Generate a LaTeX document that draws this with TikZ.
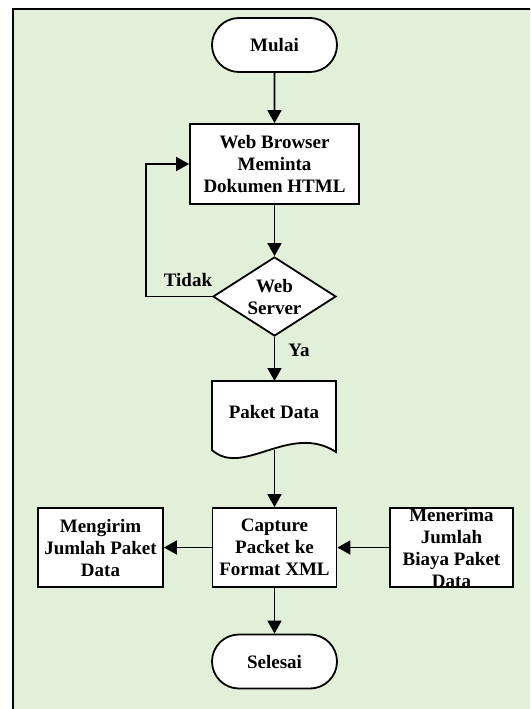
\documentclass[tikz,border=0pt]{standalone}
\usepackage{fontspec}
\setmainfont{Liberation Serif}
\usetikzlibrary{arrows.meta,shapes.geometric,shapes.misc}
\definecolor{bgreen}{HTML}{E2F0D9}
\begin{document}
\begin{tikzpicture}[x=1pt,y=-1pt,
 txt/.style={font=\fontsize{19}{22}\selectfont\bfseries, align=center, inner sep=0pt},
 base/.style={txt, draw=black, line width=1.8pt, fill=white},
 procbox/.style={base, rectangle, minimum width=#1, minimum height=79pt},
 term/.style={base, rounded rectangle, minimum width=125pt, minimum height=54pt},
 dec/.style={base, diamond, minimum width=123pt, minimum height=79pt},
 arr/.style={-{Triangle[width=14pt,length=13pt]}, line width=1.8pt}]
\useasboundingbox (0,0) rectangle (530,709);
\clip (0,0) rectangle (530,709);
\draw[line width=1.8pt, fill=bgreen] (13,9) rectangle (560,740);

\node[term] (mulai) at (274.5,45) {Mulai};
\node[procbox=169pt, minimum height=80pt] (wb) at (274.5,164) {Web Browser\\Meminta\\Dokumen HTML};
\node[dec, label={[txt]center:Web\\Server}] (ws) at (274.5,296.5) {};

\draw[base] (212,381) -- (336,381) -- (336,452) .. controls (290,422) and (243,478) .. (212,450) -- cycle;
\node[txt] (pd) at (274,412) {Paket Data};
\coordinate (pdtop) at (274.5,381);
\coordinate (pdbot) at (274.5,450);

\node[procbox=124pt] (cap) at (274.5,547.5) {Capture\\Packet ke\\Format XML};
\node[procbox=125pt] (kirim) at (100.5,547.5) {Mengirim\\Jumlah Paket\\Data};
\node[procbox=123pt] (terima) at (451.5,547.5) {Menerima\\Jumlah\\Biaya Paket\\Data};
\node[term] (sel) at (274.5,661.5) {Selesai};

\node[txt] (tidak) at (188,280) {Tidak};
\node[txt] (ya) at (299,350) {Ya};

\draw[arr] (mulai) -- (wb);
\draw[arr] (wb) -- (ws);
\draw[arr] (ws.west) -- ++(-66,0) |- (wb.west);
\draw[arr] (ws) -- (pdtop);
\draw[arr] (pdbot) -- (cap);
\draw[arr] (cap) -- (kirim);
\draw[arr] (terima) -- (cap);
\draw[arr] (cap) -- (sel);
\end{tikzpicture}
\end{document}
